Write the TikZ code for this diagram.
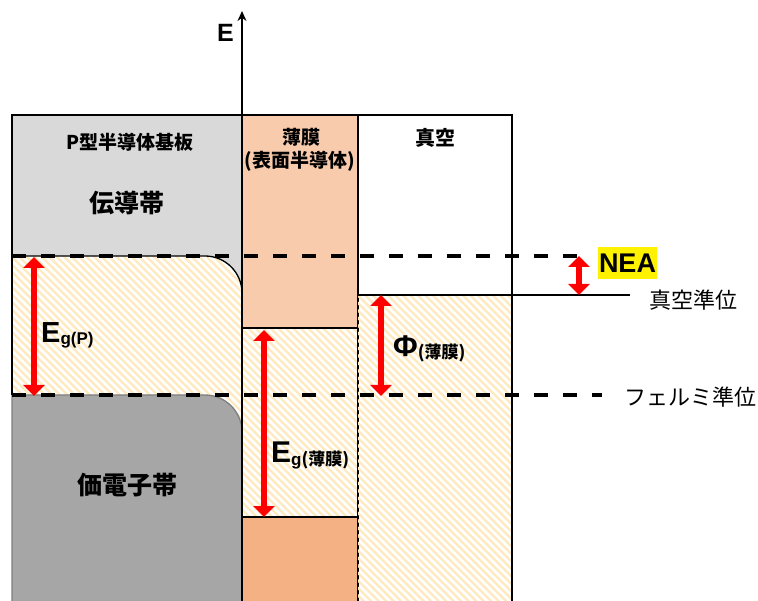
\documentclass[tikz,border=0pt]{standalone}
\usepackage{fontspec}
\setmainfont{Liberation Sans}
\newfontfamily\jp{Noto Sans CJK JP}
\usetikzlibrary{arrows.meta}
\definecolor{lgray}{HTML}{D9D9D9}
\definecolor{dgray}{HTML}{A6A6A6}
\definecolor{dgrayline}{HTML}{7F7F7F}
\definecolor{salmonA}{HTML}{F8CBAD}
\definecolor{salmonB}{HTML}{F4B183}
\definecolor{hatchc}{HTML}{FFEAC0}
\newcommand\myhatch{\foreach \i in {-620,-612.5,...,760} {\draw[hatchc,line width=2.3pt] (\i,0) -- (\i+620,620);}}
\begin{document}
\begin{tikzpicture}[x=1pt,y=-1pt,
  frame/.style={draw=black,line width=1.5pt},
  level/.style={line width=3.6pt,dash pattern=on 14pt off 15pt},
  gaparrow/.style={draw=red,line width=6.5pt,{Triangle[width=21pt,length=11pt]}-{Triangle[width=21pt,length=11pt]}},
  jpb/.style={font=\jp\bfseries\fontsize{#1}{#1}\selectfont,inner sep=0pt},
  jpr/.style={font=\jp\fontsize{#1}{#1}\selectfont,inner sep=0pt},
  lat/.style={font=\bfseries\fontsize{#1}{#1}\selectfont,inner sep=0pt},
]
\useasboundingbox[fill=white] (0,0) rectangle (758,601);
% ---------- left column: P-type substrate
\fill[lgray] (12,115) rectangle (242,300);
\path[fill=white] (12,601) -- (12,256) -- (205,256) .. controls (225.4,256) and (242,272.6) .. (242,293) -- (242,601) -- cycle;
\begin{scope}
\clip (12,601) -- (12,256) -- (205,256) .. controls (225.4,256) and (242,272.6) .. (242,293) -- (242,601) -- cycle;
\myhatch
\end{scope}
\draw[line width=1.3pt] (12,256) -- (205,256) .. controls (225.4,256) and (242,272.6) .. (242,293);
\draw[fill=dgray,draw=dgrayline,line width=1.3pt] (12,601) -- (12,395) -- (205,395) .. controls (225.4,395) and (242,411.6) .. (242,432) -- (242,601);
\draw[frame] (12,395) -- (12,115) -- (242,115);
% ---------- middle column: thin film
\fill[salmonA] (242,115) rectangle (358,328);
\fill[white] (242,328) rectangle (358,517);
\begin{scope}
\clip (242,328) rectangle (358,517);
\myhatch
\end{scope}
\fill[salmonB] (242,517) rectangle (358,601);
\draw[frame] (242,115) -- (358,115) -- (358,601);
\draw[frame] (242,328) -- (358,328);
\draw[frame] (242,517) -- (358,517);
% ---------- right column: vacuum
\begin{scope}
\clip (358,295) rectangle (512,601);
\myhatch
\end{scope}
\draw[frame] (358,115) -- (512,115) -- (512,601);
\coordinate (vacL) at (358,295);
\coordinate (vacR) at (630,295);
\draw[frame] (vacL) -- (vacR);
% ---------- energy axis
\coordinate (axB) at (242,601);
\coordinate (axT) at (242,11);
\draw[line width=1.5pt,-{Stealth[width=9pt,length=10pt]}] (axB) -- (axT);
\node[lat=25,anchor=base west] (E) at (217,42) {E};
% ---------- dashed levels
\coordinate (neaL) at (12,256);
\coordinate (neaR) at (588,256);
\coordinate (feL) at (12,395);
\coordinate (feR) at (602,395);
\draw[level] (neaL) -- (neaR);
\draw[level] (feL) -- (feR);
% ---------- red arrows
\coordinate (a1t) at (34,257);
\coordinate (a1b) at (34,396);
\coordinate (a2t) at (264,330);
\coordinate (a2b) at (264,517);
\coordinate (a3t) at (381,295);
\coordinate (a3b) at (381,396);
\coordinate (a4t) at (579,256);
\coordinate (a4b) at (579,295);
\draw[gaparrow] (a1t) -- (a1b);
\draw[gaparrow] (a2t) -- (a2b);
\draw[gaparrow] (a3t) -- (a3b);
\draw[gaparrow] (a4t) -- (a4b);
% ---------- labels
\node[jpb=19] (sub) at (130,142) {P型半導体基板};
\node[jpb=25] (cb) at (127,203) {伝導帯};
\node[jpb=25] (vb) at (127,485) {価電子帯};
\node[jpb=19] (film1) at (301,137) {薄膜};
\node[jpb=19] (film2) at (300,161) {(表面半導体)};
\node[jpb=20] (vac) at (435,138) {真空};
\node[jpr=22] (vlev) at (693,300) {真空準位};
\node[jpr=22] (flev) at (690,397) {フェルミ準位};
\node[inner sep=0pt,anchor=base west] (egp) at (41,343) {\bfseries\fontsize{29}{29}\selectfont E\raisebox{-2pt}{\fontsize{17}{17}\selectfont g(P)}};
\node[inner sep=0pt,anchor=base west] (egf) at (271,463) {\bfseries\fontsize{30}{30}\selectfont E\raisebox{-2pt}{\fontsize{17}{17}\selectfont g{\jp\bfseries (薄膜)}}};
\node[inner sep=0pt,anchor=base west] (phi) at (393,357) {\bfseries\fontsize{30}{30}\selectfont Φ\raisebox{-2pt}{\fontsize{17}{17}\selectfont\jp\bfseries (薄膜)}};
\node[lat=27,fill=yellow,minimum width=59pt,minimum height=32pt] (nea) at (627.5,263) {NEA};
\end{tikzpicture}
\end{document}
